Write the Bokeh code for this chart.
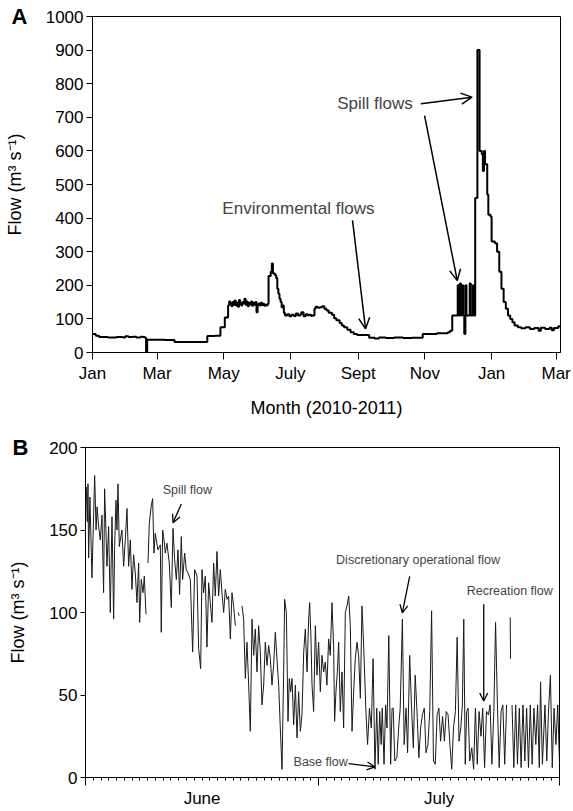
import numpy as np
from bokeh.plotting import figure
from bokeh.models import FixedTicker, LinearAxis, Range1d, Label, Arrow, OpenHead
from bokeh.layouts import column, row
from bokeh.embed import file_html
from bokeh.resources import INLINE

FONT = "Liberation Sans"
NAN = float("nan")

# ---------------- Panel A data: days since 1 Jan 2010, daily flow (m3/s) ----------------
a_day = [0, 3, 6, 14, 22, 28, 30, 33, 37, 40, 44, 46, 48, 49, 50, 60, 66, 72, 75, 90,
         105, 112, 117, 121, 124, 125, 126, 127, 128, 129, 130, 131, 132, 133, 134, 135,
         136, 137, 138, 139, 140, 141, 142, 143, 144, 145, 146, 147, 148, 149, 150, 151,
         152, 153, 154, 155, 156, 157, 158, 159, 160,
         161, 163, 164, 165, 167, 168, 169, 170, 171, 172, 173, 174, 175, 176, 178, 180,
         182, 184, 186, 188, 190, 191, 193, 195, 197, 198, 200, 201, 203, 204, 206, 208,
         210, 212, 214, 216, 219, 221, 223, 226, 228, 230, 233, 236, 239, 242, 253, 258,
         262, 268, 276, 284, 292, 302, 315, 325, 327, 329, 334, 335, 336, 337, 338, 339,
         340, 341, 342, 345, 346, 348, 349, 350, 352, 354, 356, 357, 358, 359, 361, 362,
         364, 365, 368, 370, 372, 374, 376, 378, 380, 382, 384, 386, 389, 392, 396, 400,
         404, 408, 410, 414, 418, 420, 422, 426, 428]
a_flow = [55, 50, 46, 45, 46, 45, 48, 46, 47, 45, 47, 46, 44, 0, 38, 38, 37, 37, 31, 31,
          49, 50, 75, 104, 140, 152, 146, 138, 150, 142, 155, 140, 148, 136, 156, 145,
          140, 150, 146, 160, 142, 152, 138, 147, 143, 152, 139, 148, 142, 150, 120, 143,
          146, 140, 148, 141, 145, 139, 142, 140, 144,
          228, 240, 265, 235, 230, 222, 190, 175, 160, 150, 135, 140, 118, 110, 114, 108,
          112, 109, 116, 110, 113, 120, 108, 114, 110, 112, 109, 110, 130, 136, 133, 135,
          138, 130, 125, 118, 112, 102, 96, 88, 80, 75, 68, 60, 55, 52, 44, 42,
          45, 43, 45, 43, 44, 55, 57, 60, 65, 110, 200, 110, 205, 110, 200, 110,
          55, 200, 110, 205, 110, 200, 110, 460, 900, 600, 590, 540, 600, 560, 470, 410,
          405, 330, 325, 300, 240, 190, 150, 130, 110, 100, 90, 80, 75, 72, 75, 70,
          73, 65, 74, 70, 74, 66, 73, 78, 75]
a_tick_days = [0, 59, 120, 181, 243, 304, 365, 424]
a_tick_labels = ["Jan", "Mar", "May", "July", "Sept", "Nov", "Jan", "Mar"]
a_y_ticks = [0, 100, 200, 300, 400, 500, 600, 700, 800, 900, 1000]

# ---------------- Panel B data: days since 1 June, flow (m3/s) ----------------
b_day = [0.00, 0.10, 0.23, 0.32, 0.40, 0.57, 0.83, 1.05, 1.18, 1.36, 1.49, 1.69, 1.90, 2.12,
         2.33, 2.46, 2.63, 2.76, 2.98, 3.19, 3.41, 3.62, 3.75, 3.92, 4.05, 4.18, 4.35, 4.48,
         4.69, 4.91, 5.12, 5.34, 5.55, 5.77, 5.98, 6.19, 6.41, 6.62, 6.84, 6.97, 7.18, 7.40,
         7.57, 7.78, 7.90, 8.04, 8.21, 8.47, 8.64, 8.81, 8.98, 9.11, 9.32, 9.63, 9.75, 9.93,
         10.06, 10.27, 10.48, 10.78, 11.04, 11.26, 11.47, 11.69, 11.90, 12.11, 12.33, 12.50,
         12.76, 12.97, 13.19, 13.49, 13.79, 14.05, 14.35, 14.56, 14.82, 14.99, 15.20, 15.42,
         15.63, 15.85, 16.06, 16.28, 16.49, 16.70, 16.92, 17.13,
         17.35, 17.56, 17.78, 17.99, 18.21, 18.42, 18.64, 18.85, 19.06, 19.28, 19.40, 19.62,
         19.79, 19.90, 20.14, 20.35, 20.57, 20.78, 21.00, 21.21, 21.43, 21.64, 21.85, 22.07,
         22.28, 22.50, 22.71, 22.93, 23.14, 23.36, 23.57, 23.79, 24.00, 24.21, 24.43, 24.64,
         24.86, 25.07, 25.29, 25.50, 25.63, 25.85, 26.06, 26.23, 26.41, 26.58, 26.79, 27.01,
         27.22, 27.43, 27.65, 27.86, 28.08, 28.29, 28.51, 28.72, 28.85, 29.02, 29.15, 29.36,
         29.58, 29.79, 30.00, 30.22, 30.43, 30.65, 30.86, 31.07, 31.29, 31.50, 31.72, 31.93,
         32.06, 32.23, 32.41, 32.58, 32.79, 33.01, 33.22, 33.44, 33.65, 33.87, 34.08, 34.30,
         34.51, 34.72, 34.94, 35.15, 35.37, 35.58, 35.80,
         36.07, 36.30, 36.54, 36.78, 37.01, 37.25, 37.48, 37.67, 37.86, 38.05, 38.19, 38.42,
         38.62, 38.80, 39.03, 39.27, 39.45, 39.60, 39.80, 40.07, 40.30, 40.50, 40.78, 41.01,
         41.25, 41.45, 41.72, 41.96, 42.19, 42.43, 42.66, 42.90, 43.13, 43.35, 43.60, 43.82,
         44.07, 44.30, 44.54, 44.78, 45.01, 45.25, 45.48, 45.70, 45.95, 46.19, 46.42, 46.66,
         46.90, 47.13, 47.36, 47.60, 47.83, 48.07, 48.30, 48.50, 48.68, 48.87, 49.05, 49.24,
         49.45, 49.71, 49.95, 50.18, 50.42, 50.65, 50.89, 51.12, 51.36, 51.60, 51.85, 52.07,
         52.30, 52.55, 52.77, 53.01, 53.24, 53.48, 53.71, 53.95, 54.19, 54.40, 54.66, 54.70,
         54.80, 54.89, 55.12, 55.36, 55.59, 55.83, 56.06, 56.30, 56.54, 56.77, 57.01, 57.24,
         57.48, 57.71, 57.95, 58.18, 58.40, 58.56, 58.80, 59.13, 59.36, 59.60, 59.83, 60.07,
         60.30, 60.54, 60.77, 61.00]
b_flow = [175, 176, 155, 178, 133, 170, 121, 160, 183, 150, 164, 152, 144, 159,
          112, 175, 150, 128, 152, 100, 158, 96, 140, 168, 150, 178, 140, 144,
          150, 128, 144, 163, 128, 144, 114, 135, 124, 106, 130, 94, 120, 112,
          122, 99, NAN, 130, 154, 165, 169, 136, 148, 144, 138, 141, 88, 150,
          146, 136, 142, 130, 103, 151, 132, 120, 138, 111, 146, 120,
          136, 126, 124, 120, 76, 126, 122, 78, 66, 126, 112, 122,
          79, 118, 106, 94, 130, 110, 137, 110,
          126, 112, 100, 114, 108, 110, 84, 112, 104, 92, NAN, 100,
          98, NAN, 104, 96, 60, 82, 56, 28, 96, 74, 90, 64,
          92, 76, 44, 56, 82, 68, 80, 72, 56, 68, 88, 72,
          56, 30, 5, 64, 108, 100, 34, 60, 52, 60, 32, 56,
          24, 52, 28, 38, 76, 90, 64, 96, 106, 84, 56, 40,
          92, 62, 82, 52, 74, 64, 70, 56, 84, 74, 106, 80,
          34, 52, 64, 82, 40, 64, 30, 100, 104, 110, 92, 28,
          52, 72, 82, 74, 48, 104, 80,
          42, 20, 42, 30, 72, 5, 42, 8, 40, 20, 42, 8,
          44, 30, 86, 8, 42, 42, 10, 12, 30, 42, 96, 20,
          42, 15, 74, 42, 18, 62, 40, 12, 30, 38, 42, 15,
          20, 40, 101, 10, 8, 38, 42, 22, 37, 22, 40, 38,
          20, 5, 30, 40, 85, 22, 30, 44, 96, 8, 40, 42,
          10, 18, 5, 42, 8, 40, 25, 42, 6, 40, 38, 44,
          8, 40, 94, 44, 6, 40, 44, 8, 44, NAN, 97, 72,
          NAN, 44, 6, 44, 8, 42, 6, 44, 10, 42, 6, 44,
          8, 42, 20, 44, 6, 58, 8, 44, 10, 42, 62, 6,
          42, 20, 44, 8]
b_major_ticks = [0, 30, 61]
b_minor_ticks = list(range(0, 62))
b_month_pos = [15, 45.5]
b_month_labels = ["June", "July"]
b_y_ticks = [0, 50, 100, 150, 200]

LBL = "17px"
Y_TITLE = "Flow (m³ s⁻¹)"


def style_axes(p):
    for ax in p.axis:
        ax.axis_line_color = "black"
        ax.axis_line_width = 1
        ax.major_tick_line_color = "black"
        ax.minor_tick_line_color = "black"
        ax.major_tick_in = 0
        ax.minor_tick_in = 0
        ax.major_label_text_font = FONT
        ax.major_label_text_font_size = LBL
        ax.major_label_text_color = "black"
        ax.axis_label_text_font = FONT
        ax.axis_label_text_font_size = "18px"
        ax.axis_label_text_font_style = "normal"
        ax.axis_label_text_color = "black"


def letter_axis(p, letter, ytick):
    ax = LinearAxis(ticker=FixedTicker(ticks=[ytick], minor_ticks=[]),
                    major_label_overrides={ytick: letter}, axis_label=Y_TITLE)
    p.add_layout(ax, "left")
    return ax


def finish_letter_axis(ax, label_standoff, title_standoff):
    ax.axis_line_color = None
    ax.major_tick_line_color = None
    ax.major_tick_out = 0
    ax.major_label_text_font_size = "22px"
    ax.major_label_text_font_style = "bold"
    ax.major_label_standoff = label_standoff
    ax.axis_label_standoff = title_standoff


# ---------------- Panel A ----------------
pA = figure(width=573, height=425, x_range=Range1d(0, 428), y_range=Range1d(0, 1000),
            output_backend="svg", toolbar_location=None,
            min_border_left=92, min_border_right=13, min_border_top=16, min_border_bottom=73)
pA.grid.visible = False
pA.outline_line_color = "black"
pA.outline_line_width = 1
pA.step(a_day, a_flow, mode="after", line_color="black", line_width=2)

pA.xaxis.ticker = FixedTicker(ticks=a_tick_days, minor_ticks=[])
pA.xaxis.major_label_overrides = {d: l for d, l in zip(a_tick_days, a_tick_labels)}
pA.xaxis.axis_label = "Month (2010-2011)"
pA.yaxis.ticker = FixedTicker(ticks=a_y_ticks, minor_ticks=[])
outerA = letter_axis(pA, "A", 1000)
style_axes(pA)
pA.xaxis.major_tick_out = 7
pA.xaxis.major_label_standoff = 4
pA.xaxis.axis_label_standoff = 12
pA.yaxis[0].major_tick_out = 6
pA.yaxis[0].major_label_standoff = 3
finish_letter_axis(outerA, 15, -16)

pA.add_layout(Label(x=258.4, y=740, text="Spill flows", text_font=FONT, text_font_size="17px",
                    text_align="center", text_baseline="middle"))
pA.add_layout(Label(x=188.3, y=428, text="Environmental flows", text_font=FONT,
                    text_font_size="17px", text_align="center", text_baseline="middle"))
for xs, ys, xe, ye in [(300.3, 740, 347.1, 760), (303.7, 705, 333.6, 214), (237.8, 393, 249.7, 70.5)]:
    pA.add_layout(Arrow(end=OpenHead(size=11, line_width=1.5, line_color="black"),
                        x_start=xs, y_start=ys, x_end=xe, y_end=ye,
                        line_width=1.5, line_color="black"))

# ---------------- Panel B ----------------
pB = figure(width=573, height=385, x_range=Range1d(0, 61), y_range=Range1d(0, 200),
            output_backend="svg", toolbar_location=None,
            min_border_left=85, min_border_right=14, min_border_top=22, min_border_bottom=31)
pB.grid.visible = False
pB.outline_line_color = "black"
pB.outline_line_width = 1
pB.line(np.array(b_day), np.array(b_flow, dtype=float), line_color="#1a1a1a", line_width=1)

pB.xaxis.ticker = FixedTicker(ticks=b_major_ticks, minor_ticks=b_minor_ticks)
pB.xaxis.major_label_overrides = {d: "" for d in b_major_ticks}
pB.yaxis.ticker = FixedTicker(ticks=b_y_ticks, minor_ticks=[])
month_axis = LinearAxis(ticker=FixedTicker(ticks=b_month_pos, minor_ticks=[]),
                        major_label_overrides={d: l for d, l in zip(b_month_pos, b_month_labels)})
pB.add_layout(month_axis, "below")
outerB = letter_axis(pB, "B", 200)
style_axes(pB)
pB.xaxis[0].major_tick_out = 8
pB.xaxis[0].minor_tick_out = 3
pB.xaxis[0].major_label_text_font_size = "1px"
pB.xaxis[0].major_label_standoff = 0
month_axis.axis_line_color = None
month_axis.major_tick_line_color = None
month_axis.minor_tick_line_color = None
month_axis.major_tick_out = 0
month_axis.minor_tick_out = 0
month_axis.major_label_standoff = 3
pB.yaxis[0].major_tick_out = 5
pB.yaxis[0].major_label_standoff = 3
finish_letter_axis(outerB, 18, -18)

for tx, ty, t in [(13.1, 174, "Spill flow"), (42.8, 132, "Discretionary operational flow"),
                  (54.6, 113, "Recreation flow"), (30.26, 9.5, "Base flow")]:
    pB.add_layout(Label(x=tx, y=ty, text=t, text_font=FONT, text_font_size="12.5px",
                        text_align="center", text_baseline="middle"))
for xs, ys, xe, ye in [(12.33, 165.7, 11.26, 154.4), (41.72, 121.9, 40.77, 99.8),
                       (51.25, 105, 51.25, 46.4), (33.86, 8.4, 37.25, 6.4)]:
    pB.add_layout(Arrow(end=OpenHead(size=8, line_width=1.3, line_color="black"),
                        x_start=xs, y_start=ys, x_end=xe, y_end=ye,
                        line_width=1.3, line_color="black"))

layout = column(row(pA), row(pB))
open("out.html", "w").write(file_html(layout, INLINE))
